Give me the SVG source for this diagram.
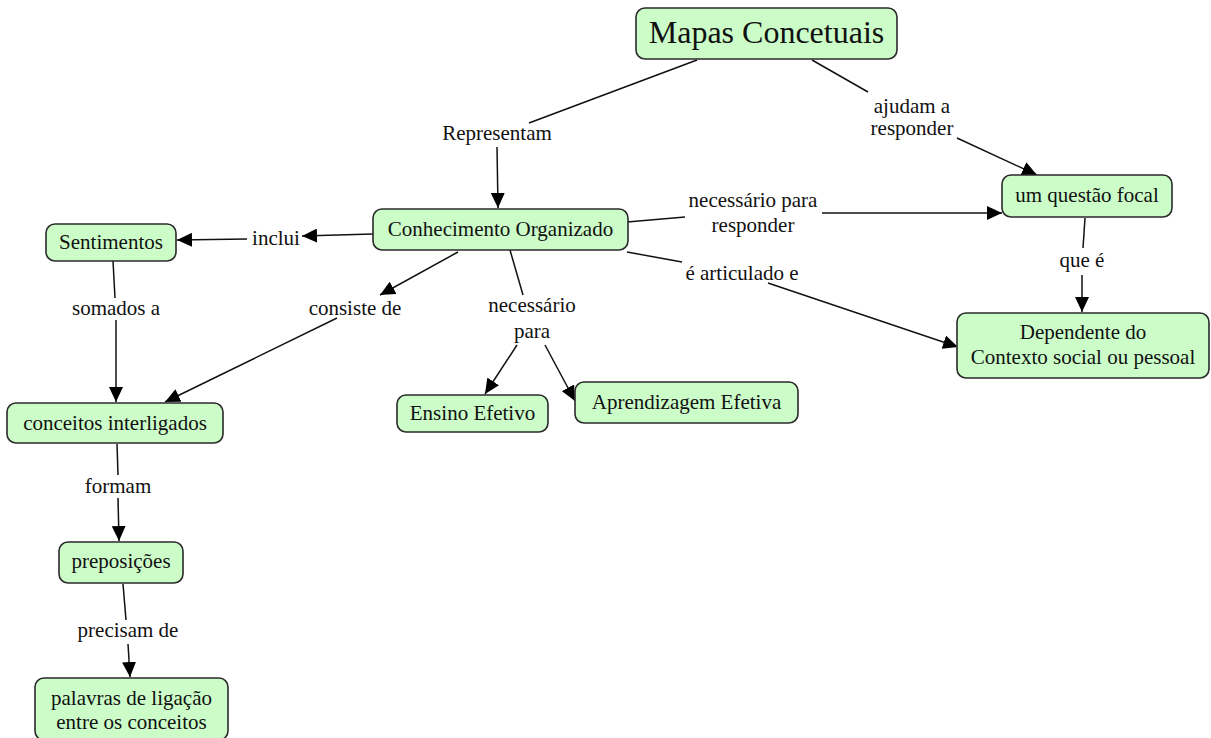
<svg xmlns="http://www.w3.org/2000/svg" width="1211" height="738" viewBox="0 0 1211 738" font-family="Liberation Serif, DejaVu Serif, serif">
<style>
.n{fill:#ccfdc8;stroke:#2a2a2a;stroke-width:1.6}
.t{font-size:21px;fill:#111;text-anchor:middle}
.big{font-size:32px}
.c{stroke:#111;stroke-width:1.5;fill:none}
.a{marker-end:url(#ah)}
</style>
<defs>
<marker id="ah" markerUnits="userSpaceOnUse" markerWidth="16" markerHeight="14" refX="15" refY="7" orient="auto">
<path d="M0,0 L15,7 L0,14 z" fill="#000"/>
</marker>
</defs>
<rect width="1211" height="738" fill="#fff"/>
<g id="connectors">
<line class="c" x1="697" y1="60" x2="529" y2="123"/>
<text class="t" x="497" y="140">Representam</text>
<line class="c a" x1="497" y1="147" x2="498" y2="208"/>
<line class="c" x1="812" y1="60" x2="868" y2="92"/>
<text class="t" x="912" y="113">ajudam a</text>
<text class="t" x="912" y="135">responder</text>
<line class="c a" x1="957" y1="138" x2="1037" y2="175"/>
<line class="c a" x1="373" y1="234" x2="302" y2="236"/>
<text class="t" x="276" y="245">inclui</text>
<line class="c a" x1="247" y1="239" x2="177" y2="240"/>
<line class="c" x1="627" y1="222" x2="685" y2="217"/>
<text class="t" x="753" y="207">necessário para</text>
<text class="t" x="753" y="232">responder</text>
<line class="c a" x1="822" y1="213" x2="1002" y2="213"/>
<line class="c" x1="627" y1="252" x2="682" y2="262"/>
<text class="t" x="742" y="280">é articulado e</text>
<line class="c a" x1="768" y1="283" x2="958" y2="347"/>
<line class="c a" x1="458" y1="252" x2="380" y2="295"/>
<text class="t" x="355" y="315">consiste de</text>
<line class="c a" x1="337" y1="318" x2="165" y2="402"/>
<line class="c" x1="510" y1="250" x2="523" y2="295"/>
<text class="t" x="532" y="312">necessário</text>
<text class="t" x="532" y="338">para</text>
<line class="c a" x1="517" y1="345" x2="485" y2="394"/>
<line class="c a" x1="545" y1="345" x2="575" y2="401"/>
<line class="c" x1="1085" y1="218" x2="1083" y2="248"/>
<text class="t" x="1082" y="267">que é</text>
<line class="c a" x1="1082" y1="275" x2="1082" y2="312"/>
<line class="c" x1="113" y1="261" x2="115" y2="298"/>
<text class="t" x="116" y="315">somados a</text>
<line class="c a" x1="116" y1="320" x2="116" y2="402"/>
<line class="c" x1="117" y1="444" x2="118" y2="475"/>
<text class="t" x="118" y="493">formam</text>
<line class="c a" x1="118" y1="498" x2="119" y2="541"/>
<line class="c" x1="123" y1="584" x2="126" y2="620"/>
<text class="t" x="128" y="637">precisam de</text>
<line class="c a" x1="128" y1="644" x2="130" y2="677"/>
</g>
<g id="mapas"><rect class="n" x="636" y="8" width="261" height="51" rx="9"/><text class="t big" x="766.5" y="43">Mapas Concetuais</text></g>
<g id="conhecimento"><rect class="n" x="373" y="209" width="255" height="41" rx="9"/><text class="t" x="500.5" y="236">Conhecimento Organizado</text></g>
<g id="sentimentos"><rect class="n" x="46" y="224" width="130" height="37" rx="9"/><text class="t" x="111" y="249">Sentimentos</text></g>
<g id="conceitos"><rect class="n" x="7" y="403" width="216" height="40" rx="9"/><text class="t" x="115" y="430">conceitos interligados</text></g>
<g id="preposicoes"><rect class="n" x="59" y="542" width="124" height="41" rx="9"/><text class="t" x="121" y="568">preposições</text></g>
<g id="palavras"><rect class="n" x="35" y="678" width="193" height="62" rx="9"/><text class="t" x="131.5" y="705">palavras de ligação</text><text class="t" x="131.5" y="729">entre os conceitos</text></g>
<g id="ensino"><rect class="n" x="397" y="395" width="151" height="37" rx="9"/><text class="t" x="472.5" y="420">Ensino Efetivo</text></g>
<g id="aprendizagem"><rect class="n" x="575" y="382" width="223" height="41" rx="9"/><text class="t" x="686.5" y="409">Aprendizagem Efetiva</text></g>
<g id="questao"><rect class="n" x="1002" y="175" width="170" height="42" rx="9"/><text class="t" x="1087" y="202">um questão focal</text></g>
<g id="dependente"><rect class="n" x="957" y="313" width="252" height="65" rx="9"/><text class="t" x="1083" y="339">Dependente do</text><text class="t" x="1083" y="364">Contexto social ou pessoal</text></g>
</svg>
